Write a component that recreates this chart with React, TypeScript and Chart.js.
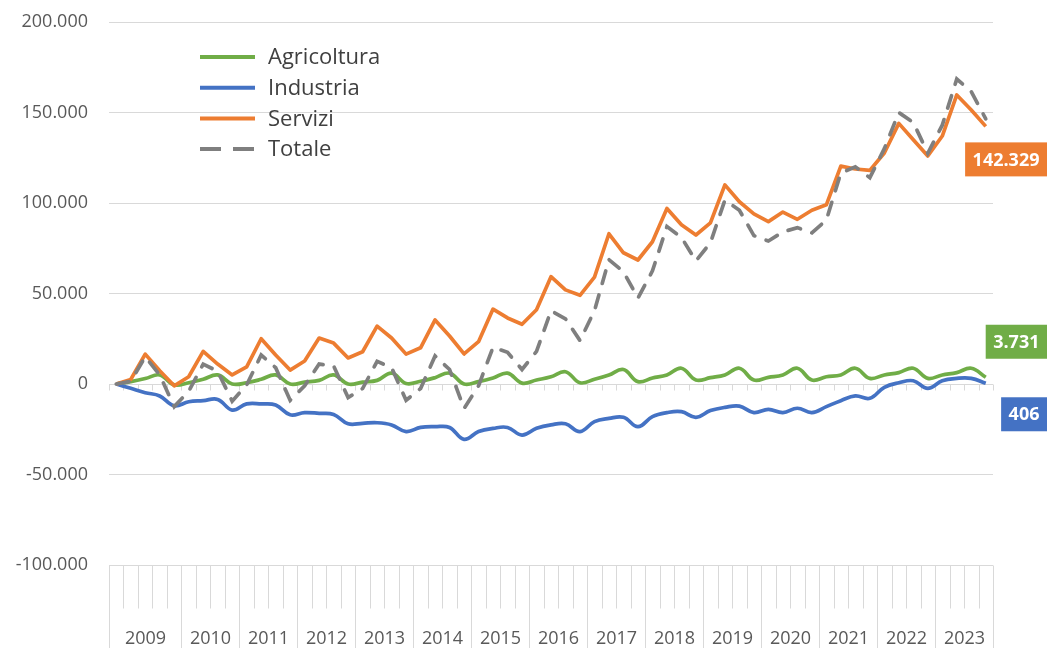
import React, { useEffect, useRef } from 'react';
import { Chart, registerables } from 'chart.js';

Chart.register(...registerables);

// ---- data ----
const years = ['2009', '2010', '2011', '2012', '2013', '2014', '2015', '2016', '2017', '2018', '2019', '2020', '2021', '2022', '2023'];
const quartersPerYear = [5, 4, 4, 4, 4, 4, 4, 4, 4, 4, 4, 4, 4, 4, 4];
const seriesNames = ['Agricoltura', 'Industria', 'Servizi', 'Totale'];

const agricoltura = [
  0, 1300, 3000, 5000, -500, 700, 2600, 5000, 0, 700, 2600, 5000, 0, 1000, 2000, 5000,
  0, 1000, 2000, 6000, 300, 1500, 3500, 6000, 0, 1300, 3300, 6000, 500, 2200, 4000, 6800,
  700, 2600, 5000, 8000, 1300, 3300, 5000, 8700, 2200, 3500, 5000, 8700, 2200, 3700, 5000, 8700,
  2200, 4000, 5000, 8700, 3100, 5000, 6300, 8700, 3100, 5000, 6300, 8700, 3731,
];
const industria = [
  0, -2400, -4800, -6600, -12000, -9800, -9200, -8500, -14400, -11000, -11000, -11600, -17000, -15800, -16200, -16800,
  -22000, -21700, -21400, -22600, -26300, -24000, -23600, -24000, -30600, -26300, -24500, -24000, -28200, -24500, -22600, -22000,
  -26300, -20800, -19000, -18400, -23600, -18000, -15800, -15300, -18400, -14700, -12900, -12200, -15800, -14000, -15800, -13400,
  -15800, -12500, -9200, -6600, -7900, -1800, 700, 1800, -2400, 1800, 3100, 3100, 406,
];
const servizi = [
  0, 2500, 16500, 7300, -1000, 4000, 18000, 11000, 5000, 9500, 25000, 16000, 7700, 12700, 25400, 22600,
  14400, 17800, 32000, 25400, 16500, 20000, 35400, 26500, 16600, 23400, 41400, 36500, 33000, 41000, 59300, 52000,
  49000, 59000, 83000, 72500, 68500, 78600, 97000, 88000, 82300, 89000, 110000, 100700, 94000, 89700, 95000, 91000,
  96000, 99000, 120400, 118800, 118000, 127600, 144000, 135000, 126000, 137000, 159700, 151400, 142329,
];
const totale = [
  0, 1500, 15000, 5000, -12500, -4000, 11000, 7000, -9500, -500, 16000, 9000, -9000, -1000, 11000, 10000,
  -7500, -2500, 12500, 9000, -9000, -2500, 15500, 8000, -13500, -1000, 20300, 17500, 8000, 18000, 40500, 36000,
  24000, 40500, 68700, 62000, 47500, 62500, 87000, 81000, 68000, 78000, 101600, 96000, 82000, 79000, 84000, 86400,
  83500, 90600, 116600, 120000, 114000, 130000, 150000, 144500, 127500, 143000, 168500, 161500, 146466,
];

const yMin = -100000;
const yMax = 200000;
const yStep = 50000;

// ---- helpers ----
const categories: string[] = [];
years.forEach((yr, k) => {
  for (let q = 0; q < quartersPerYear[k]; q++) categories.push(`${yr} #${q + 1}`);
});

function fmtIt(v: number): string {
  const s = Math.abs(Math.round(v)).toString().replace(/\B(?=(\d{3})+(?!\d))/g, '.');
  return (v < 0 ? '-' : '') + s;
}

const COLORS = {
  agr: '#70AD47',
  ind: '#4472C4',
  ser: '#ED7D31',
  tot: '#7F7F7F',
  grid: '#D9D9D9',
  text: '#595959',
};
const FONT = '"Open Sans", "Noto Sans", sans-serif';

const excelPlugin = {
  id: 'excelLook',
  beforeDatasetsDraw(chart: any) {
    const { ctx, chartArea, scales } = chart;
    const xs = scales.x;
    const ys = scales.y;
    const n = categories.length;
    const w = xs.getPixelForValue(1) - xs.getPixelForValue(0);
    const boundary = (k: number) => Math.round(xs.getPixelForValue(0) - w / 2 + k * w) + 0.5;
    const y0 = Math.round(ys.getPixelForValue(0)) + 0.5;
    const yb = Math.round(chartArea.bottom) + 0.5;
    const H = chart.height;
    ctx.save();
    ctx.strokeStyle = COLORS.grid;
    ctx.lineWidth = 1;
    ctx.beginPath();
    for (let k = 0; k <= n; k++) {
      const px = boundary(k);
      ctx.moveTo(px, y0);
      ctx.lineTo(px, y0 + 6);
    }
    const starts = new Set<number>();
    let acc = 0;
    starts.add(0);
    quartersPerYear.forEach((c) => { acc += c; starts.add(acc); });
    for (let k = 0; k <= n; k++) {
      const px = boundary(k);
      ctx.moveTo(px, yb);
      ctx.lineTo(px, starts.has(k) ? H : yb + 43);
    }
    ctx.stroke();
    ctx.fillStyle = COLORS.text;
    ctx.font = `18px ${FONT}`;
    ctx.textAlign = 'center';
    ctx.textBaseline = 'middle';
    let s = 0;
    years.forEach((yr, k) => {
      const e = s + quartersPerYear[k];
      const cx = (boundary(s) + boundary(e)) / 2;
      ctx.fillText(yr, cx, yb + 73);
      s = e;
    });
    ctx.restore();
  },
  afterDatasetsDraw(chart: any) {
    const { ctx, chartArea, scales } = chart;
    const ys = scales.y;
    ctx.save();
    const legendItems = [
      { name: seriesNames[0], color: COLORS.agr, dash: [] as number[] },
      { name: seriesNames[1], color: COLORS.ind, dash: [] as number[] },
      { name: seriesNames[2], color: COLORS.ser, dash: [] as number[] },
      { name: seriesNames[3], color: COLORS.tot, dash: [21, 12] },
    ];
    const lx = chartArea.left + 91;
    const ly = chartArea.top + 35;
    legendItems.forEach((it, i) => {
      const yy = ly + i * 30.7;
      ctx.strokeStyle = it.color;
      ctx.lineWidth = 4;
      ctx.lineCap = 'butt';
      ctx.setLineDash(it.dash);
      ctx.beginPath();
      ctx.moveTo(lx, yy);
      ctx.lineTo(lx + 55, yy);
      ctx.stroke();
      ctx.setLineDash([]);
      ctx.fillStyle = '#404040';
      ctx.font = `22px ${FONT}`;
      ctx.textAlign = 'left';
      ctx.textBaseline = 'middle';
      ctx.fillText(it.name, lx + 68, yy + 1);
    });
    const last = categories.length - 1;
    const labels = [
      { v: servizi[last], color: COLORS.ser, dy: 33 },
      { v: agricoltura[last], color: COLORS.agr, dy: -35.5 },
      { v: industria[last], color: COLORS.ind, dy: 31 },
    ];
    const right = chartArea.right + 54;
    labels.forEach((l) => {
      const text = fmtIt(l.v);
      ctx.font = `bold 18px ${FONT}`;
      const tw = ctx.measureText(text).width;
      const bw = tw + 15;
      const bh = 34;
      const cy = ys.getPixelForValue(l.v) + l.dy;
      ctx.fillStyle = l.color;
      ctx.fillRect(right - bw, cy - bh / 2, bw, bh);
      ctx.fillStyle = '#FFFFFF';
      ctx.textAlign = 'center';
      ctx.textBaseline = 'middle';
      ctx.fillText(text, right - bw / 2, cy + 1);
    });
    ctx.restore();
  },
};

export default function App() {
  const canvasRef = useRef<HTMLCanvasElement | null>(null);

  useEffect(() => {
    const canvas = canvasRef.current;
    if (!canvas) return;
    const chart = new Chart(canvas, {
      type: 'line',
      data: {
        labels: categories,
        datasets: [
          {
            label: seriesNames[0],
            data: agricoltura,
            borderColor: COLORS.agr,
            borderWidth: 3.7,
            pointRadius: 0,
            tension: 0.4,
            order: 3,
          },
          {
            label: seriesNames[1],
            data: industria,
            borderColor: COLORS.ind,
            borderWidth: 3.7,
            pointRadius: 0,
            tension: 0.4,
            order: 2,
          },
          {
            label: seriesNames[2],
            data: servizi,
            borderColor: COLORS.ser,
            borderWidth: 3.7,
            pointRadius: 0,
            tension: 0,
            borderJoinStyle: 'round',
            order: 1,
          },
          {
            label: seriesNames[3],
            data: totale,
            borderColor: COLORS.tot,
            borderWidth: 3.7,
            borderDash: [13, 12],
            borderCapStyle: 'round',
            pointRadius: 0,
            tension: 0,
            order: 0,
          },
        ],
      },
      options: {
        responsive: false,
        animation: false,
        devicePixelRatio: 1,
        layout: { padding: { top: 22, bottom: 83, left: 0, right: 57 } },
        plugins: { legend: { display: false }, tooltip: { enabled: false } },
        scales: {
          x: { display: false, offset: true },
          y: {
            min: yMin,
            max: yMax,
            afterFit: (scale: any) => {
              scale.width = 109;
              scale.paddingTop = 0;
              scale.paddingBottom = 0;
            },
            ticks: {
              stepSize: yStep,
              padding: 21,
              color: COLORS.text,
              font: { family: FONT, size: 18 },
              callback: (v: any) => fmtIt(Number(v)),
            },
            grid: { color: COLORS.grid, lineWidth: 1, drawTicks: false },
            border: { display: false },
          },
        },
      },
      plugins: [excelPlugin],
    } as any);
    return () => chart.destroy();
  }, []);

  return (
    <div style={{ position: 'absolute', left: 0, top: 0, width: 1050, height: 648, background: '#fff' }}>
      <canvas ref={canvasRef} width={1050} height={648} />
    </div>
  );
}
